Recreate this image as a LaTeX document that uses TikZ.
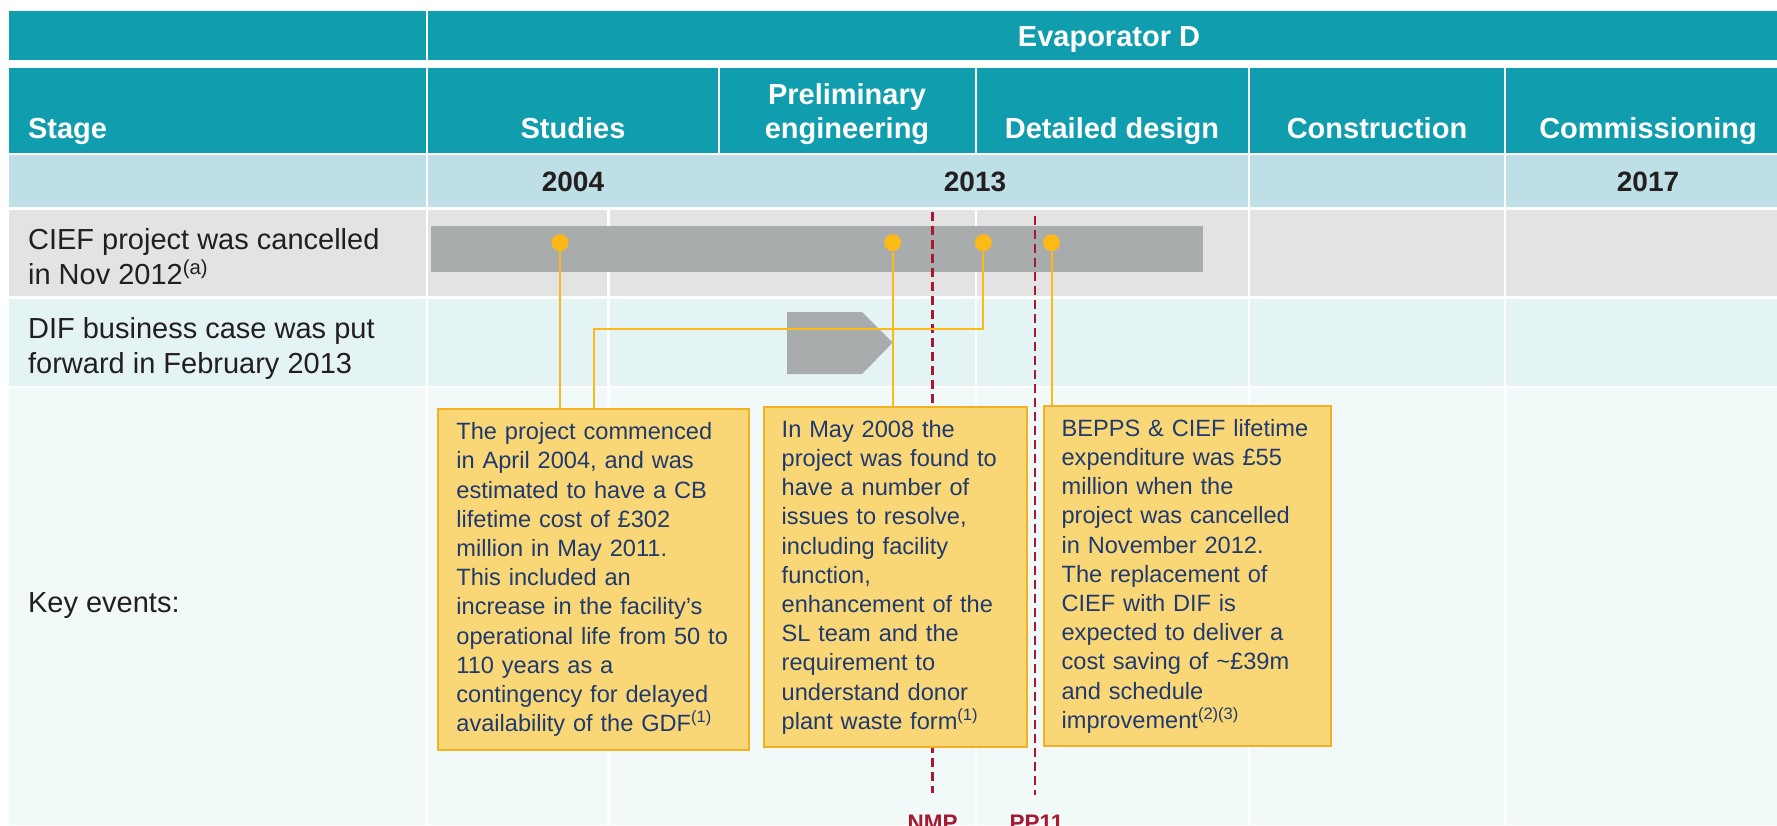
\documentclass[tikz,border=0pt]{standalone}
\usepackage{fontspec}
\setmainfont{Liberation Sans}
\usepackage{xcolor}
\usepackage{tikz}

\definecolor{headteal}{HTML}{109DAE}
\definecolor{yearblue}{HTML}{BEDFE5}
\definecolor{rowgray}{HTML}{E3E3E3}
\definecolor{rowaqua}{HTML}{E4F4F5}
\definecolor{rowpale}{HTML}{F2FAF9}
\definecolor{bargray}{HTML}{A8ACAD}
\definecolor{eventgold}{HTML}{FDBA17}
\definecolor{notefill}{HTML}{FAD776}
\definecolor{noteedge}{HTML}{F2B124}
\definecolor{notetext}{HTML}{1F3A6F}
\definecolor{inkgray}{HTML}{231F20}
\definecolor{gatered}{HTML}{A6192E}

\begin{document}
\begin{tikzpicture}[
    x=0.5pt,
    y=-0.5pt,
    gridline/.style={
        white,
        line width=1.25pt
    },
    header/.style={
        text=white,
        inner sep=0pt,
        font=\fontsize{14.5}{17}\selectfont\bfseries
    },
    year/.style={
        text=inkgray,
        inner sep=0pt,
        font=\fontsize{14}{17}\selectfont\bfseries
    },
    rowlabel/.style={
        text=inkgray,
        inner sep=0pt,
        align=left,
        font=\fontsize{14.5}{17.5}\selectfont
    },
    event/.style={
        circle,
        fill=eventgold,
        minimum size=8.5pt,
        inner sep=0pt
    },
    note/.style={
        rectangle,
        draw=noteedge,
        fill=notefill,
        line width=1pt,
        text=notetext,
        align=left,
        inner xsep=9pt,
        inner ysep=0pt,
        font=\fontsize{11.8}{14.6}\selectfont
    },
    link/.style={
        draw=eventgold,
        line width=1pt
    },
    gate/.style={
        text=gatered,
        inner sep=0pt,
        font=\fontsize{11.25}{13}\selectfont\bfseries
    },
    gateline/.style={
        draw=gatered,
        line width=1.1pt,
        dash pattern=on 4.5pt off 2.5pt
    }
]

\fill[white] (0,0) rectangle (1777,825);
\useasboundingbox (0,0) rectangle (1777,825);

% Table bands
\fill[headteal] (9,11) rectangle (1777,60);
\fill[headteal] (9,68) rectangle (1777,152.7);
\fill[yearblue] (9,155.3) rectangle (1777,206.7);
\fill[rowgray] (9,209.5) rectangle (1777,296);
\fill[rowaqua] (9,298.7) rectangle (1777,385.7);
\fill[rowpale] (9,388.3) rectangle (1777,825);

% Column rules
\draw[gridline] (427,11) -- (427,825);
\draw[gridline] (719,68) -- (719,152.7);
\draw[gridline] (976,68) -- (976,152.7);
\draw[gridline] (976,209.5) -- (976,825);
\draw[gridline] (608.5,209.5) -- (608.5,825);
\draw[gridline] (1249,68) -- (1249,825);
\draw[gridline] (1505,68) -- (1505,825);

% Headers
\node[header, anchor=base] (evap) at (1109,46.5) {Evaporator D};
\node[header, anchor=base west] (stage) at (27.7,138) {Stage};
\node[header, anchor=base] (studies) at (573,138) {Studies};
\node[header, anchor=center, align=center] (prelim) at (847,113.6) {Preliminary\\engineering};
\node[header, anchor=base] (detailed) at (1112,138) {Detailed design};
\node[header, anchor=base] (construction) at (1377,138) {Construction};
\node[header, anchor=base] (commissioning) at (1648,138) {Commissioning};

% Years
\node[year, anchor=base] (y2004) at (573,191.7) {2004};
\node[year, anchor=base] (y2013) at (975,191.7) {2013};
\node[year, anchor=base] (y2017) at (1648,191.7) {2017};

% Row labels
\node[rowlabel, anchor=west] (ciefrow) at (27.7,257) {CIEF project was cancelled\\in Nov 2012\textsuperscript{(a)}};
\node[rowlabel, anchor=west] (difrow) at (27.7,348) {DIF business case was put\\forward in February 2013};
\node[rowlabel, anchor=base west] (keyrow) at (27.7,612.5) {Key events:};

% Bars
\fill[bargray] (430.7,226) rectangle (1202.5,271.7);
\fill[bargray] (787,312) -- (862,312) -- (892.7,342.7) -- (862,374) -- (787,374) -- cycle;

% Gates
\node[gate, anchor=base] (nmp) at (932.5,830) {NMP};
\node[gate, anchor=base] (pp11) at (1036.5,830) {PP11};
\coordinate (nmptop) at (932.5,212);
\coordinate (pp11top) at (1035,216);
\draw[gateline] (nmptop) -- (nmptop |- nmp.north) [shorten >=10.5pt];
\draw[gateline] (pp11top) -- (pp11top |- pp11.north) [shorten >=9.5pt];

% Events
\node[event] (evstart) at (560,242.7) {};
\node[event] (evreview) at (892.7,242.7) {};
\node[event] (evdif) at (983.3,242.7) {};
\node[event] (evcancel) at (1051.5,242.7) {};

% Notes
\node[note, minimum width=155.35pt, minimum height=170.85pt, text width=137.35pt] (notestart) at (593.75,579.5) {The project commenced\\
in April 2004, and was\\
estimated to have a CB\\
lifetime cost of £302\\
million in May 2011.\\
This included an\\
increase in the facility’s\\
operational life from 50 to\\
110 years as a\\
contingency for delayed\\
availability of the GDF\textsuperscript{(1)}};
\node[note, minimum width=131.8pt, minimum height=170.15pt, text width=113.8pt] (notereview) at (895.5,577.2) {In May 2008 the\\
project was found to\\
have a number of\\
issues to resolve,\\
including facility\\
function,\\
enhancement of the\\
SL team and the\\
requirement to\\
understand donor\\
plant waste form\textsuperscript{(1)}};
\node[note, minimum width=143.7pt, minimum height=170.15pt, text width=125.7pt] (notecancel) at (1187.3,576.2) {BEPPS \& CIEF lifetime\\
expenditure was £55\\
million when the\\
project was cancelled\\
in November 2012.\\
The replacement of\\
CIEF with DIF is\\
expected to deliver a\\
cost saving of \textasciitilde£39m\\
and schedule\\
improvement\textsuperscript{(2)(3)}};

% Links
\coordinate (difbend) at (594,329);
\draw[link] (evstart) -- (evstart |- notestart.north);
\draw[link] (evreview) -- (evreview |- notereview.north);
\draw[link] (evcancel) -- (evcancel |- notecancel.north);
\draw[link] (evdif) |- (difbend) -- (difbend |- notestart.north);

\end{tikzpicture}
\end{document}
